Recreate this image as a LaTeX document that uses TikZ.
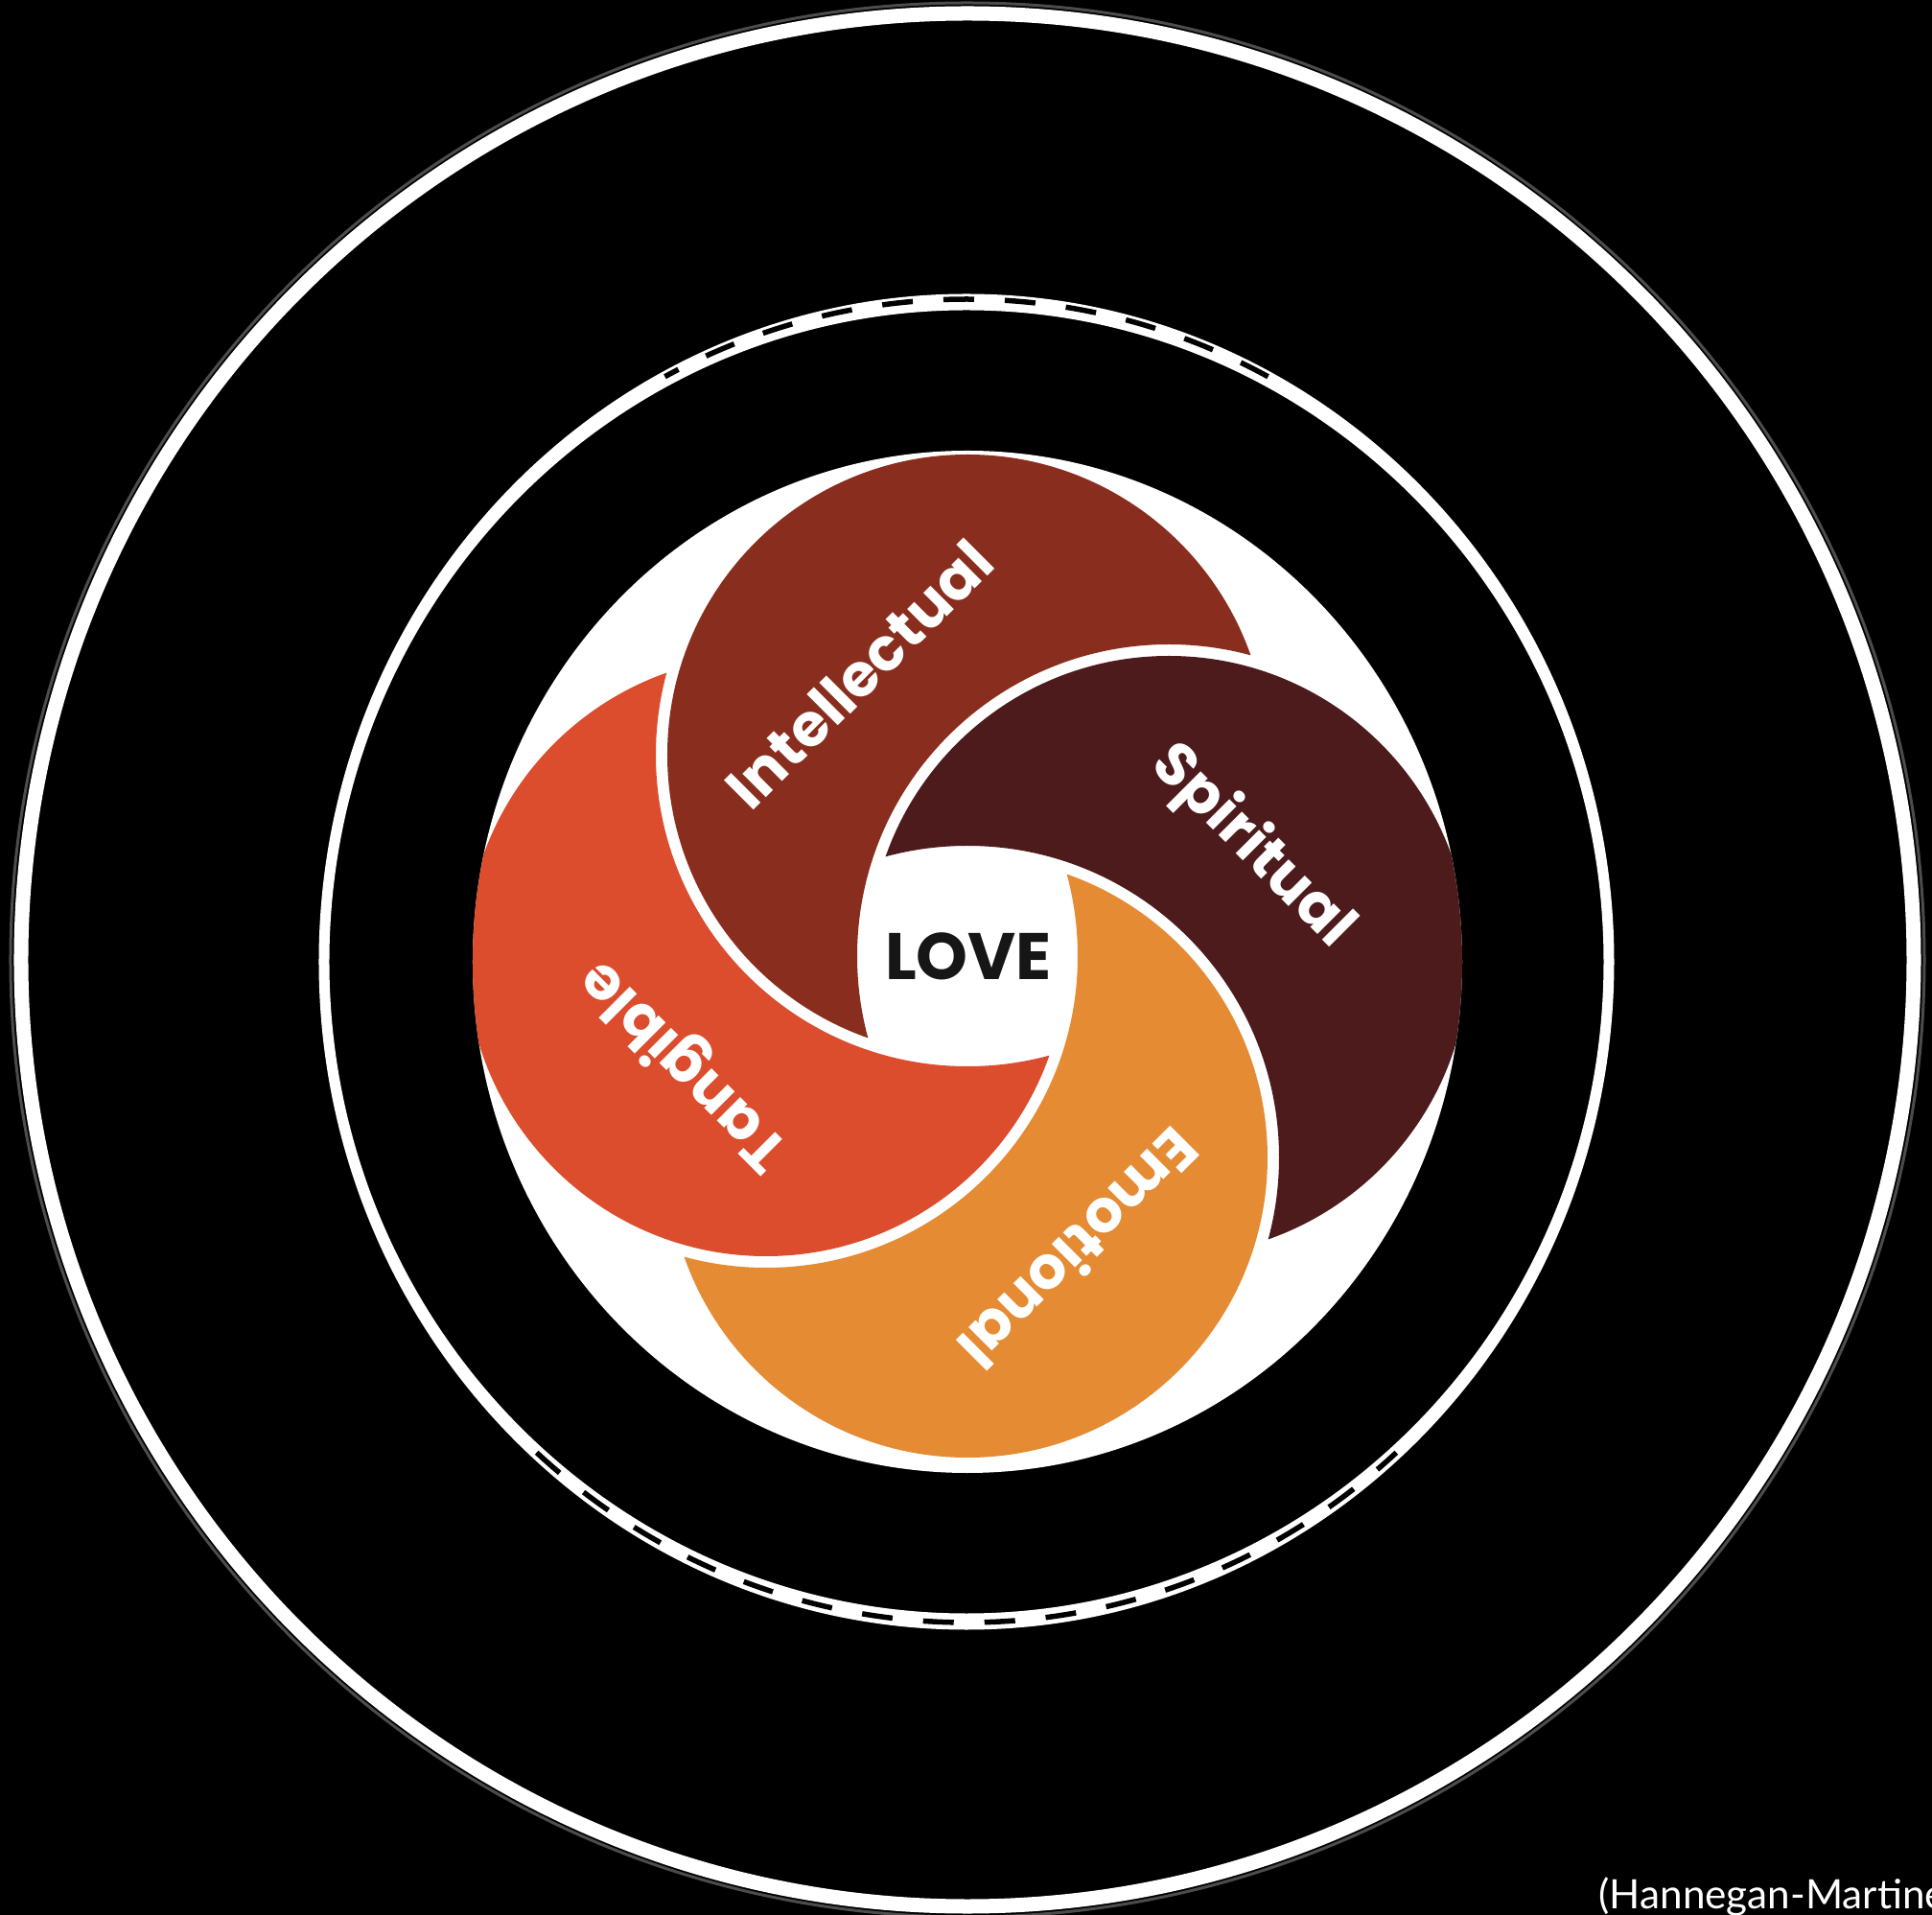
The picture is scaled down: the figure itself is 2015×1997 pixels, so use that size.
\documentclass[tikz,border=0pt]{standalone}
\usepackage{fontspec}
\newfontfamily\popf{Poppins}
\newfontfamily\capf{Lato}
\definecolor{cIntel}{HTML}{892E1F}
\definecolor{cSpir}{HTML}{4D1B1B}
\definecolor{cEmot}{HTML}{E58B34}
\definecolor{cTang}{HTML}{DB4D2D}
\definecolor{cLove}{HTML}{161616}
\begin{document}
\begin{tikzpicture}[x=0.01cm, y=0.01cm,
  lbl/.style={text=white, font=\popf\bfseries\fontsize{17.6}{20}\selectfont, inner sep=0pt},
  lovestyle/.style={text=cLove, font=\popf\bfseries\fontsize{19.5}{22}\selectfont, inner sep=0pt},
  capstyle/.style={text=white, font=\capf\fontsize{12}{14}\selectfont, inner sep=0pt},
  dashring/.style={black, line width=0.055cm, dash pattern=on 0.32cm off 0.32cm}]
\useasboundingbox (-1009,-997) rectangle (1006,1000);
\fill[black] (-1009,-997) rectangle (1006,1000);
% outer ring
\draw[black!70, line width=0.03cm] (0,-1) circle (998);
\draw[white, line width=0.15cm] (0,-1) circle (987);
% middle band (white) with dashes at top and bottom
\fill[white, even odd rule] (-1,-3) ellipse (675.5 and 696.5) (-1,-3) ellipse (664.5 and 679.5);
\draw[dashring] (-1,-2) ++(62:670 and 690) arc[start angle=62, end angle=118, x radius=670, y radius=690];
\draw[dashring] (-1,-2) ++(228:670 and 690) arc[start angle=228, end angle=312, x radius=670, y radius=690];
% white disk
\fill[white] (0,-3) ellipse (516 and 533);
% petals
\begin{scope}[shift={(0,3)}]
  \begin{scope}
    \clip (0,-6) ellipse (516 and 533);
    \clip (90:210) circle (313);
    \fill[cIntel, even odd rule] (-700,-700) rectangle (700,700) (0:210) circle (325);
  \end{scope}
  \begin{scope}
    \clip (0,-6) ellipse (516 and 533);
    \clip (0:210) circle (313);
    \fill[cSpir, even odd rule] (-700,-700) rectangle (700,700) (-90:210) circle (325);
  \end{scope}
  \begin{scope}
    \clip (0,-6) ellipse (516 and 533);
    \clip (-90:210) circle (313);
    \fill[cEmot, even odd rule] (-700,-700) rectangle (700,700) (180:210) circle (325);
  \end{scope}
  \begin{scope}
    \clip (0,-6) ellipse (516 and 533);
    \clip (180:210) circle (313);
    \fill[cTang, even odd rule] (-700,-700) rectangle (700,700) (90:210) circle (325);
  \end{scope}
  \node[lbl, rotate=45] (intel) at (111:315) {Intellectual};
  \node[lbl, rotate=-45] (spir) at (21:318) {Spiritual};
  \node[lbl, rotate=-135] (emot) at (-69:328) {Emotional};
  \node[lbl, rotate=135] (tang) at (-159:315) {Tangible};
  \node[lovestyle] (love) at (1,0) {LOVE};
\end{scope}
\node[capstyle, anchor=base west] (cite) at (658,-990) {(Hannegan-Martine};
\end{tikzpicture}
\end{document}
